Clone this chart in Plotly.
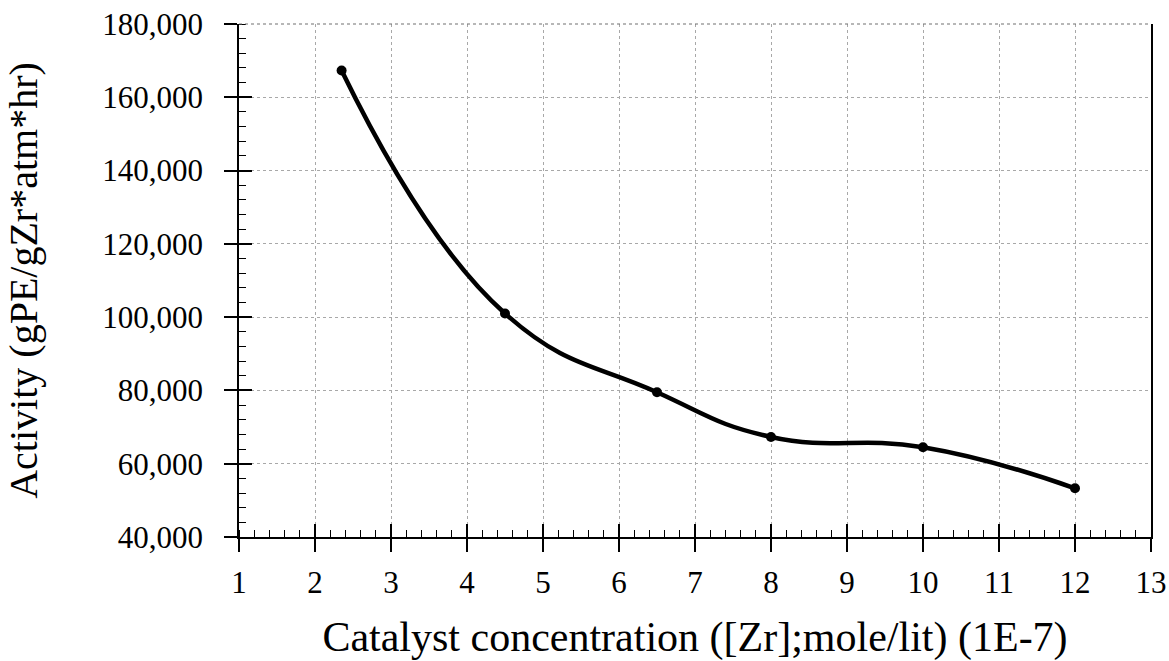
import plotly.graph_objects as go

# Catalyst concentration (x 1E-7 mole/lit) vs. polymerisation activity
conc = [2.35, 4.5, 6.5, 8.0, 10.0, 12.0]
activity = [167300, 101000, 79500, 67300, 64500, 53300]

x_ticks = list(range(1, 14))
y_ticks = list(range(40000, 180001, 20000))
y_tick_text = [f"{v:,}" for v in y_ticks]

FONT = "Liberation Serif, Times New Roman, serif"
GRID = "#a8a8a8"

fig = go.Figure()
fig.add_trace(go.Scatter(
    x=conc, y=activity,
    mode="lines+markers",
    line=dict(color="black", width=4.5, shape="spline", smoothing=1.3),
    marker=dict(color="black", size=10),
    showlegend=False,
    hoverinfo="skip",
))
# invisible trace on the overlay axes so they get drawn
fig.add_trace(go.Scatter(x=[1, 13], y=[40000, 180000], xaxis="x2", yaxis="y2",
                         mode="markers", marker=dict(opacity=0), showlegend=False,
                         hoverinfo="skip"))

grid = dict(showgrid=True, gridcolor=GRID, gridwidth=1, griddash="dot")

fig.update_layout(
    width=1169, height=661,
    margin=dict(l=239, r=18, t=24, b=124),
    paper_bgcolor="white", plot_bgcolor="white",
    font=dict(family=FONT, color="black", size=31),
    xaxis=dict(
        range=[1, 13], tickvals=x_ticks, ticktext=[str(v) for v in x_ticks],
        ticks="outside", ticklen=13, tickwidth=1.5, tickcolor="black",
        showline=True, linecolor="black", linewidth=1.5,
        zeroline=False, ticklabelstandoff=4, automargin=False,
        tickfont=dict(size=31, family=FONT),
        minor=dict(ticks="inside", ticklen=7, tickwidth=1.2, tickcolor="black",
                   dtick=0.2, showgrid=False),
        title=dict(text="Catalyst concentration ([Zr];mole/lit) (1E-7)",
                   font=dict(size=42, family=FONT), standoff=26),
        **grid,
    ),
    yaxis=dict(
        range=[40000, 180000], tickvals=y_ticks, ticktext=y_tick_text,
        ticks="outside", ticklen=13, tickwidth=1.5, tickcolor="black",
        showline=True, linecolor="black", linewidth=1.5, mirror=True,
        zeroline=False, ticklabelstandoff=15, automargin=False,
        tickfont=dict(size=31, family=FONT),
        minor=dict(ticks="inside", ticklen=7, tickwidth=1.2, tickcolor="black",
                   dtick=4000, showgrid=False),
        title=dict(text="Activity (gPE/gZr*atm*hr)",
                   font=dict(size=40, family=FONT), standoff=52),
        **grid,
    ),
    # overlay axes that draw the inner half of the major ticks
    xaxis2=dict(overlaying="x", matches="x", range=[1, 13], tickvals=x_ticks,
                ticks="inside", ticklen=13, tickwidth=1.5, tickcolor="black",
                showticklabels=False, showgrid=False, zeroline=False,
                showline=False, side="bottom", anchor="y2"),
    yaxis2=dict(overlaying="y", matches="y", range=[40000, 180000], tickvals=y_ticks,
                ticks="inside", ticklen=13, tickwidth=1.5, tickcolor="black",
                showticklabels=False, showgrid=False, zeroline=False,
                showline=False, side="left", anchor="x2"),
    # dotted frame edge along the top of the plotting area
    shapes=[dict(type="line", xref="x domain", yref="y domain",
                 x0=0, x1=1, y0=1, y1=1,
                 line=dict(color="#707070", width=1.2, dash="dot"))],
)

fig.write_html("out.html")
